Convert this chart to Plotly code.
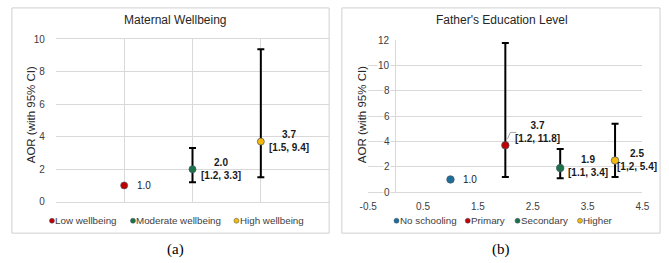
import plotly.graph_objects as go

W, H = 669, 263

# ---------------- data ----------------
mw_categories = ["Low wellbeing", "Moderate wellbeing", "High wellbeing"]
mw_x = [1, 2, 3]
mw_aor = [1.0, 2.0, 3.7]
mw_lo = [None, 1.2, 1.5]
mw_hi = [None, 3.3, 9.4]
mw_labels = ["1.0", "2.0<br>[1.2, 3.3]", "3.7<br>[1.5, 9.4]"]
mw_colors = ["#C00000", "#1B7346", "#F4B90A"]
mw_label_pos = [(1.16, 1.0, "left"), (2.41, 2.0, "center"), (3.41, 3.75, "center")]
mw_yticks = [0, 2, 4, 6, 8, 10]

fe_categories = ["No schooling", "Primary", "Secondary", "Higher"]
fe_x = [1, 2, 3, 4]
fe_aor = [1.0, 3.7, 1.9, 2.5]
fe_lo = [None, 1.2, 1.1, 1.2]
fe_hi = [None, 11.8, 3.4, 5.4]
fe_labels = ["1.0", "3.7<br>[1.2, 11.8]", "1.9<br>[1.1, 3.4]", "2.5<br>[1,2, 5.4]"]
fe_colors = ["#1F6E9A", "#C00000", "#1B7346", "#F4B90A"]
fe_label_pos = [(1.2, 1.0, "left"), (2.58, 4.72, "center"), (3.5, 2.04, "center"), (4.4, 2.53, "center")]
fe_xticks = [-0.5, 0.5, 1.5, 2.5, 3.5, 4.5]
fe_yticks = [0, 2, 4, 6, 8, 10, 12]

FONT = "Liberation Sans, Arial, sans-serif"
GRID = "#d9d9d9"
TXT = "#404040"


def X(px):
    return px / W


def Y(py):
    return 1 - py / H


fig = go.Figure()


def add_points(xs, ys, lo, hi, colors, cats, xa, ya, size):
    for xv, yv, l, h, c, name in zip(xs, ys, lo, hi, colors, cats):
        kw = {}
        if l is not None:
            kw["error_y"] = dict(type="data", symmetric=False, array=[h - yv],
                                 arrayminus=[yv - l], color="black", thickness=2, width=3.5)
        fig.add_trace(go.Scatter(x=[xv], y=[yv], mode="markers", name=name,
                                 marker=dict(color=c, size=size, line=dict(color="#44546A", width=0.7)),
                                 xaxis=xa, yaxis=ya, showlegend=False, **kw))


add_points(mw_x, mw_aor, mw_lo, mw_hi, mw_colors, mw_categories, "x", "y", 7)
add_points(fe_x, fe_aor, fe_lo, fe_hi, fe_colors, fe_categories, "x2", "y2", 7.5)

annotations = []
# data labels
for lab, (lx, ly, anc) in zip(mw_labels, mw_label_pos):
    bold = "<br>" in lab
    annotations.append(dict(x=lx, y=ly, xref="x", yref="y", text=(f"<b>{lab}</b>" if bold else lab),
                            showarrow=False, xanchor=anc, yanchor="middle", align="center",
                            font=dict(family=FONT, size=10, color="#1a1a1a")))
for lab, (lx, ly, anc) in zip(fe_labels, fe_label_pos):
    bold = "<br>" in lab
    annotations.append(dict(x=lx, y=ly, xref="x2", yref="y2", text=(f"<b>{lab}</b>" if bold else lab),
                            showarrow=False, xanchor=anc, yanchor="middle", align="center",
                            font=dict(family=FONT, size=10, color="#1a1a1a")))

# right panel y tick labels at the axis crossing x=0
for v in fe_yticks:
    annotations.append(dict(x=0, y=v, xref="x2", yref="y2", text=str(v), showarrow=False,
                            xanchor="right", yanchor="middle", xshift=-5, bgcolor="white", borderpad=0,
                            font=dict(family=FONT, size=10, color=TXT)))

# titles, axis titles, captions
for txt, px, py in [("Maternal Wellbeing", 171, 15), ("Father's Education Level", 505, 15)]:
    annotations.append(dict(x=X(px), y=Y(py), xref="paper", yref="paper", text=txt, showarrow=False,
                            xanchor="center", yanchor="middle", font=dict(family=FONT, size=12, color="#262626")))
for px in [22, 361]:
    annotations.append(dict(x=X(px), y=Y(114), xref="paper", yref="paper", text="AOR (with 95% CI)",
                            showarrow=False, textangle=-90, xanchor="center", yanchor="middle",
                            font=dict(family=FONT, size=11.5, color="#262626")))
for txt, px in [("(a)", 171), ("(b)", 504)]:
    annotations.append(dict(x=X(px), y=Y(255), xref="paper", yref="paper", text=txt, showarrow=False,
                            xanchor="center", yanchor="middle",
                            font=dict(family="Liberation Serif, Times New Roman, serif", size=15, color="black")))

shapes = []
# panel borders
for x0, x1 in [(3, 328), (341, 667)]:
    shapes.append(dict(type="rect", xref="paper", yref="paper", x0=X(x0), x1=X(x1), y0=Y(238), y1=Y(2),
                       line=dict(color="#d0d0d0", width=1), fillcolor="rgba(0,0,0,0)", layer="below"))

# leader line for primary label
shapes.append(dict(type="path", xref="x2", yref="y2", path="M 2.04 4.2 L 2.09 4.72 L 2.2 4.72",
                   line=dict(color="#a6a6a6", width=1)))

# custom legends
legend_items = [
    (mw_categories, mw_colors[:], [44, 127, 233]),
    (fe_categories, fe_colors[:], [397, 470, 521, 585]),
]
for cats, cols, xs in legend_items:
    for cat, col, px in zip(cats, cols, xs):
        shapes.append(dict(type="circle", xref="paper", yref="paper", xsizemode="pixel", ysizemode="pixel",
                           xanchor=X(px), yanchor=Y(225), x0=-2.5, x1=2.5, y0=-2.5, y1=2.5,
                           fillcolor=col, line=dict(color="#44546A", width=0.5)))
        annotations.append(dict(x=X(px + 2.5), y=Y(225), xref="paper", yref="paper", text=cat, showarrow=False,
                                xanchor="left", yanchor="middle", borderpad=0,
                                font=dict(family=FONT, size=9.8, color=TXT)))

fig.update_layout(
    width=W, height=H, margin=dict(l=0, r=0, t=0, b=0),
    paper_bgcolor="white", plot_bgcolor="white", showlegend=False,
    font=dict(family=FONT, size=10, color=TXT),
    xaxis=dict(domain=[X(48), X(328)], range=[0, 4], tickvals=[0, 1, 2, 3, 4], showticklabels=False,
               showgrid=True, gridcolor=GRID, gridwidth=1, zeroline=False,
               showline=True, linecolor=GRID, mirror=True, ticks=""),
    yaxis=dict(domain=[Y(205), Y(35)], range=[0, 10], tickvals=mw_yticks, showgrid=True, gridcolor=GRID,
               zeroline=False, showline=False, ticks="", ticklabelstandoff=10,
               tickfont=dict(family=FONT, size=10, color=TXT)),
    xaxis2=dict(domain=[X(368), X(649)], range=[-0.5, 4.5], tickvals=fe_xticks,
                ticktext=[str(v) for v in fe_xticks], showgrid=False, zeroline=True, zerolinecolor=GRID,
                zerolinewidth=1, showline=True, linecolor=GRID, ticks="", anchor="y2", ticklabelstandoff=5,
                tickfont=dict(family=FONT, size=10, color=TXT)),
    yaxis2=dict(domain=[Y(195), Y(36)], range=[0, 12], tickvals=fe_yticks, showgrid=True, gridcolor=GRID,
                showticklabels=False, zeroline=False, showline=False, ticks="", anchor="x2"),
    annotations=annotations, shapes=shapes,
)

fig.write_html("out.html")
